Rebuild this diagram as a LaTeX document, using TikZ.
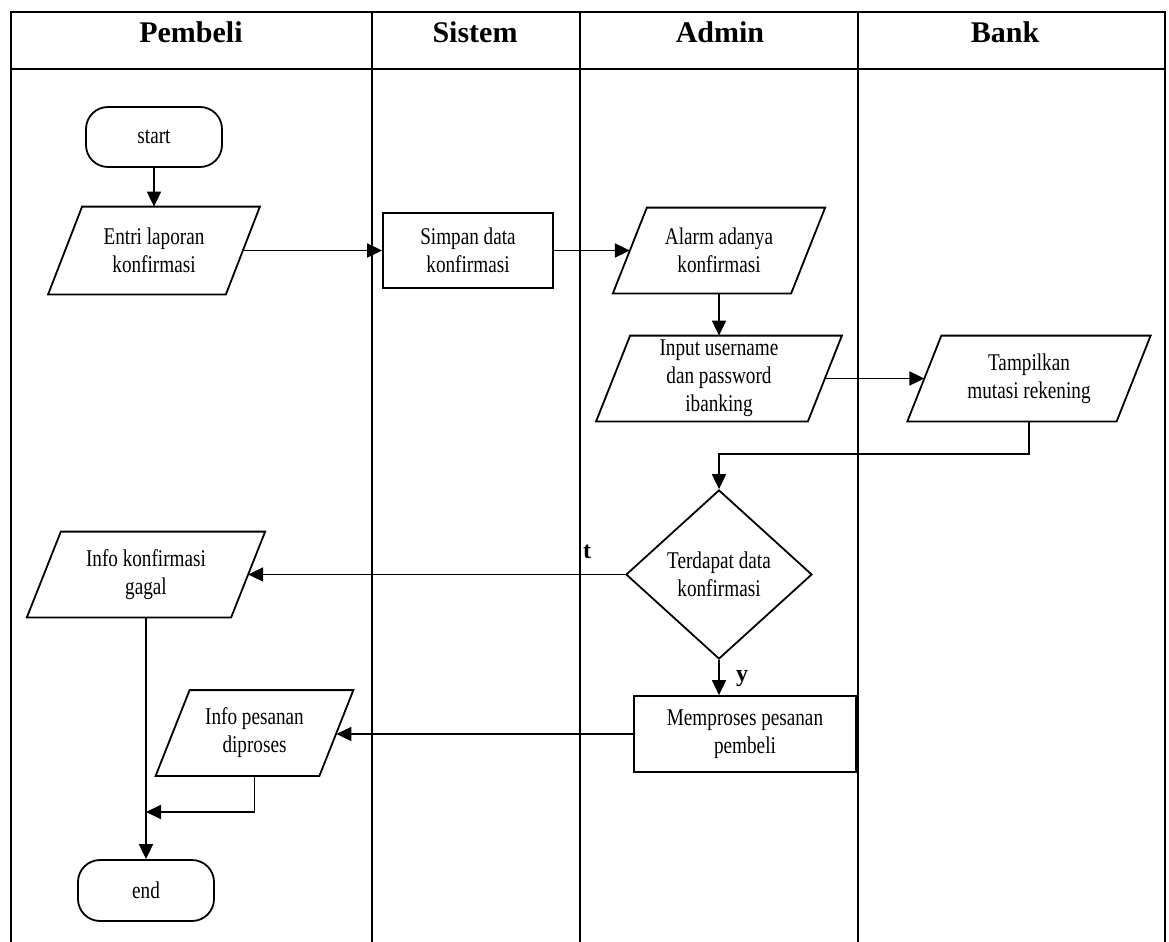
\documentclass[tikz,border=0pt]{standalone}
\usepackage{fontspec}
\setmainfont{Liberation Serif}
\newfontfamily\nodefont[FakeStretch=0.8]{Liberation Serif}
\usetikzlibrary{shapes.geometric,arrows.meta}

\begin{document}
\begin{tikzpicture}[x=0.5pt,y=-0.5pt,
  lane/.style={line width=1pt},
  txt/.style={inner sep=0pt, align=center, font=\nodefont\fontsize{12pt}{14pt}\selectfont},
  box/.style={txt, draw, rectangle, line width=0.9pt},
  term/.style={box, rounded corners=11pt, minimum width=68pt, minimum height=30pt},
  io/.style={txt, rectangle, minimum height=42.5pt, minimum width=#1},
  dec/.style={txt, draw, diamond, line width=0.9pt, minimum width=93pt, minimum height=84.5pt},
  flow/.style={line width=0.9pt, -{Triangle[length=7.5pt,width=7pt]}},
  head/.style={font=\bfseries\fontsize{15pt}{18pt}\selectfont, anchor=base, inner sep=0pt},
  lab/.style={font=\bfseries\fontsize{12pt}{14pt}\selectfont, inner sep=0pt}
]
\useasboundingbox (0,0) rectangle (1169,942);

% swimlane frame
\draw[lane] (11,942) -- (11,12) -- (1165,12) -- (1165,942);
\draw[lane] (11,69) -- (1165,69);
\foreach \x in {372,580,858} \draw[lane] (\x,12) -- (\x,942);

% lane titles
\node[head] (hPembeli) at (191,42) {Pembeli};
\node[head] (hSistem)  at (475,42) {Sistem};
\node[head] (hAdmin)   at (720,42) {Admin};
\node[head] (hBank)    at (1005,42) {Bank};

% flow nodes
\node[term] (start)  at (154,137) {start};
\node[io=88.5pt, minimum height=43.5pt] (entri) at (154,250.5) {Entri laporan\\konfirmasi};
\node[box, minimum width=85pt, minimum height=37.5pt] (simpan) at (468,250.5) {Simpan data\\konfirmasi};
\node[io=88.75pt] (alarm)  at (719,250.5) {Alarm adanya\\konfirmasi};
\node[io=105.5pt] (input)  at (719,378.5) {Input username\\dan password\\ibanking};
\node[io=104.25pt] (tampil) at (1029,378.5) {Tampilkan\\mutasi rekening};
\node[dec] (cek) at (719,574.5) {Terdapat data\\konfirmasi};
\node[io=101.75pt] (gagal) at (146,574.5) {Info konfirmasi\\gagal};
\node[box, minimum width=111pt, minimum height=38pt] (proses) at (745,734) {Memproses pesanan\\pembeli};
\node[io=81.5pt] (info) at (254.5,733) {Info pesanan\\diproses};
\node[term, minimum height=30.5pt] (end) at (146,890.5) {end};

% input/output symbols
\foreach \n in {entri,alarm,input,tampil,gagal,info}
  \draw[line width=0.9pt, line join=miter]
    ([xshift=8.5pt]\n.north west) -- ([xshift=8.5pt]\n.north east)
    -- ([xshift=-8.5pt]\n.south east) -- ([xshift=-8.5pt]\n.south west) -- cycle;

% bend points
\coordinate (k1) at (1029,454);
\coordinate (k2) at (146,812);

% connectors
\draw[flow] (start.south) -- (entri.north);
\draw[flow] (entri.east) -- (simpan.west);
\draw[flow] (simpan.east) -- (alarm.west);
\draw[flow] (alarm.south) -- (input.north);
\draw[flow] (input.east) -- (tampil.west);
\draw[flow] (tampil.south) -- (k1) -| (cek.north);
\draw[flow] (cek.west) -- (gagal.east);
\draw[flow] (cek.south) -- (cek.south |- proses.north);
\draw[flow] (proses.west) -- (proses.west -| info.east);
\draw[flow] (gagal.south) -- (end.north);
\draw[flow] (info.south) |- (k2);

% branch labels
\node[lab] (lt) at (587,551.5) {t};
\node[lab] (ly) at (742,679) {y};
\end{tikzpicture}
\end{document}
